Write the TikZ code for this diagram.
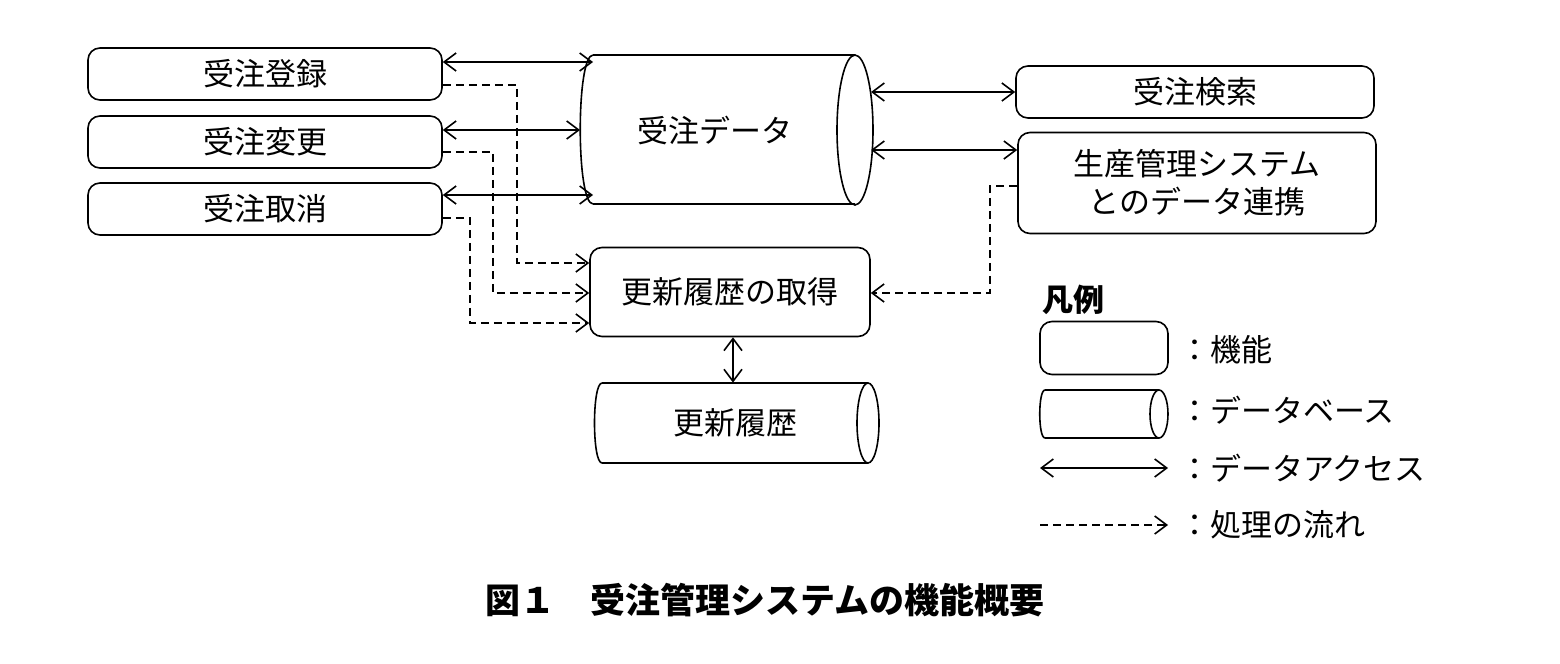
\documentclass[tikz,border=0pt]{standalone}
\usepackage{fontspec}
\setmainfont{Noto Sans CJK JP}
\usetikzlibrary{arrows.meta}
\begin{document}
\begin{tikzpicture}[x=0.5pt,y=-0.5pt,
  func/.style={draw,line width=0.8pt,rounded corners=6pt,inner sep=0pt,font=\fontsize{15.5}{19}\selectfont,align=center},
  db/.style={inner sep=0pt,font=\fontsize{15.5}{19}\selectfont},
  dbline/.style={line width=0.8pt},
  acc/.style={line width=0.8pt,{Straight Barb[length=6pt,width=9pt]}-{Straight Barb[length=6pt,width=9pt]}},
  flow/.style={line width=0.8pt,dash pattern=on 4pt off 2.5pt,-{Straight Barb[length=6pt,width=9pt]}},
  lab/.style={anchor=west,font=\fontsize{15.5}{19}\selectfont}]
\useasboundingbox (0,0) rectangle (1560,664);
\node[func,minimum width=177pt,minimum height=26pt] (reg) at (265,74) {受注登録};
\node[func,minimum width=177pt,minimum height=26pt] (chg) at (265,142) {受注変更};
\node[func,minimum width=177pt,minimum height=26pt] (can) at (265,209) {受注取消};
% database cylinders
\node[db,minimum width=146.5pt,minimum height=74.5pt] (jd) at (715,130) {受注データ};
\draw[dbline] (593,55) -- (855,55) (593,204) -- (855,204)
  (593,55) .. controls (576,55) and (576,204) .. (593,204);
\draw[dbline] (855,130) ellipse [x radius=18, y radius=75];
\node[func,minimum width=179pt,minimum height=26pt] (srch) at (1195,92) {受注検索};
\node[func,minimum width=179pt,minimum height=50.5pt] (prod) at (1197,183) {生産管理システム\\とのデータ連携};
\node[func,minimum width=140pt,minimum height=44.5pt] (get) at (730,292) {更新履歴の取得};
\node[db,minimum width=142.5pt,minimum height=40pt] (hist) at (735,423) {更新履歴};
\draw[dbline] (602,383) -- (868,383) (602,463) -- (868,463)
  (602,383) .. controls (592,383) and (592,463) .. (602,463);
\draw[dbline] (868,423) ellipse [x radius=11, y radius=40];
% access arrows
\coordinate (a1) at (593,62); \coordinate (a2) at (580,130); \coordinate (a3) at (593,195);
\coordinate (a4) at (871,92); \coordinate (a5) at (871,150);
\draw[acc] (reg.east |- a1) -- (a1);
\draw[acc] (chg.east |- a2) -- (a2);
\draw[acc] (can.east |- a3) -- (a3);
\draw[acc] (a4) -- (srch.west |- a4);
\draw[acc] (a5) -- (prod.west |- a5);
\draw[acc] (get.south -| 733,0) -- (hist.north -| 733,0);
% flows
\draw[flow] (reg.east |- 0,85) -| (517,263) -- (get.west |- 0,263);
\draw[flow] (chg.east |- 0,152) -| (493,293) -- (get.west |- 0,293);
\draw[flow] (can.east |- 0,218) -| (470,323) -- (get.west |- 0,323);
\draw[flow] (prod.west |- 0,186) -| (990,293) -- (get.east |- 0,293);
% legend
\node[anchor=west,font=\bfseries\fontsize{15.5}{19}\selectfont] (lg) at (1035,300) {凡例};
\node[func,minimum width=64pt,minimum height=26.5pt] (lf) at (1104,348) {};
\node[lab] (lft) at (1172,350) {：機能};
\node[db,minimum width=64pt,minimum height=24pt] (ld) at (1100,414) {};
\draw[dbline] (1045,390) -- (1159,390) (1045,438) -- (1159,438)
  (1045,390) .. controls (1038,390) and (1038,438) .. (1045,438);
\draw[dbline] (1159,414) ellipse [x radius=9, y radius=24];
\node[lab] (ldt) at (1172,410) {：データベース};
\coordinate (l1) at (1040,468); \coordinate (l2) at (1168,468);
\draw[acc] (l1) -- (l2);
\node[lab] (lat) at (1172,468) {：データアクセス};
\coordinate (l3) at (1040,525); \coordinate (l4) at (1168,525);
\draw[flow] (l3) -- (l4);
\node[lab] (lft2) at (1172,525) {：処理の流れ};
\node[font=\bfseries\fontsize{17.5}{21}\selectfont] (cap) at (765,600) {図１　受注管理システムの機能概要};
\end{tikzpicture}
\end{document}
